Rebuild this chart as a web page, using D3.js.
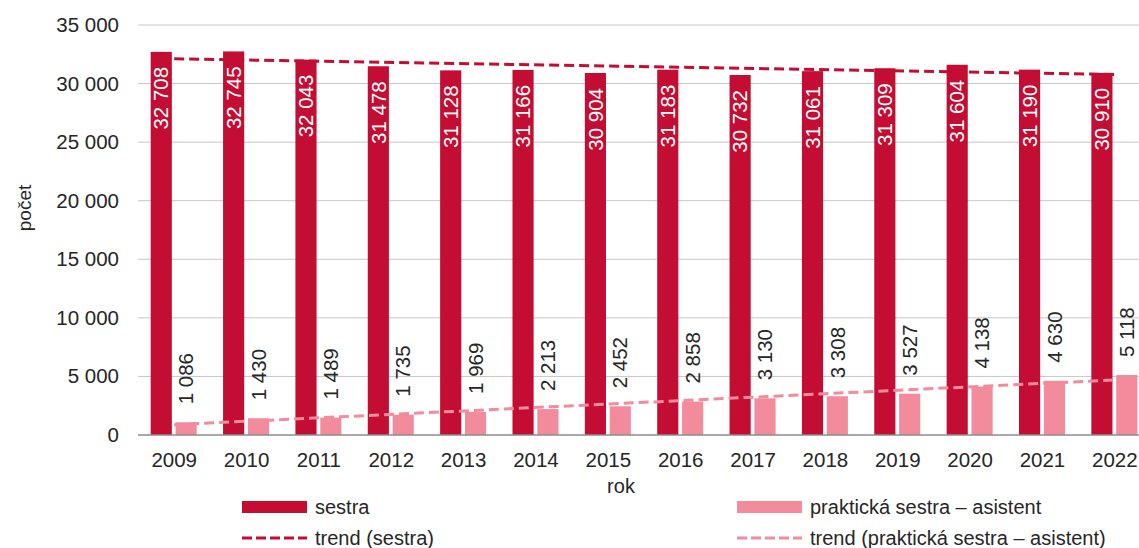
<!DOCTYPE html>
<html>
<head>
<meta charset="utf-8">
<script src="https://cdn.jsdelivr.net/npm/d3@7"></script>
<style>
  body { margin: 0; background: #fff; }
  text { font-family: "Liberation Sans", Arial, sans-serif; }
</style>
</head>
<body>
<div id="chart"></div>
<script>
// data
var years = ["2009", "2010", "2011", "2012", "2013", "2014", "2015", "2016", "2017", "2018", "2019", "2020", "2021", "2022"];
var sestra = [32708, 32745, 32043, 31478, 31128, 31166, 30904, 31183, 30732, 31061, 31309, 31604, 31190, 30910];
var prakticka = [1086, 1430, 1489, 1735, 1969, 2213, 2452, 2858, 3130, 3308, 3527, 4138, 4630, 5118];
// trend line ends (first and last year)
var trendSestra = [32110, 30770];
var trendPrakticka = [880, 4700];
var yTicks = [0, 5000, 10000, 15000, 20000, 25000, 30000, 35000];
var seriesNames = ["sestra", "praktická sestra – asistent"];

var red = "#c40d32", pink = "#f28b9c", textCol = "#262626";

var width = 1139, height = 548;
var svg = d3.select("#chart")
    .append("svg")
    .attr("width", width)
    .attr("height", height);

var locale = d3.formatLocale({ decimal: ",", thousands: " ", grouping: [3], currency: ["", ""] });
var fmt = locale.format(",d");

// scales (chart is cut off at the right edge)
var x0 = d3.scaleBand().domain(years).range([138, 1151]).padding(0);
var x1 = d3.scaleBand().domain(["s", "p"]).range([12.7, 58.7]).paddingInner(0.15);
var y = d3.scaleLinear().domain([0, 35000]).range([435, 25]);

// gridlines
svg.append("g")
    .selectAll("line")
    .data(yTicks.slice(1))
    .enter()
    .append("line")
    .attr("x1", 138).attr("x2", 1151)
    .attr("y1", function (d) { return y(d); })
    .attr("y2", function (d) { return y(d); })
    .attr("stroke", "#c6c6c6")
    .attr("stroke-width", 1);

// Y axis labels
var yAxis = svg.append("g")
    .attr("transform", "translate(138,0)")
    .call(d3.axisLeft(y).tickValues(yTicks).tickFormat(fmt).tickSize(0).tickPadding(19));
yAxis.select(".domain").remove();
yAxis.selectAll("text").style("font-size", "20.5px").attr("fill", textCol);

// bars
var groups = svg.append("g")
    .selectAll("g")
    .data(years)
    .enter()
    .append("g")
    .attr("transform", function (d) { return "translate(" + x0(d) + ",0)"; });

groups.append("rect")
    .attr("x", x1("s"))
    .attr("width", x1.bandwidth())
    .attr("y", function (d, i) { return y(sestra[i]); })
    .attr("height", function (d, i) { return y(0) - y(sestra[i]); })
    .attr("fill", red);

groups.append("rect")
    .attr("x", x1("p"))
    .attr("width", x1.bandwidth())
    .attr("y", function (d, i) { return y(prakticka[i]); })
    .attr("height", function (d, i) { return y(0) - y(prakticka[i]); })
    .attr("fill", pink);

// value labels
groups.append("text")
    .attr("transform", function (d, i) {
        return "translate(" + (x1("s") + x1.bandwidth() / 2) + "," + (y(sestra[i]) + 15) + ") rotate(-90)";
    })
    .attr("text-anchor", "end")
    .attr("dy", "0.35em")
    .style("font-size", "20.5px")
    .attr("fill", "#fff")
    .text(function (d, i) { return fmt(sestra[i]); });

groups.append("text")
    .attr("transform", function (d, i) {
        return "translate(" + (x1("p") + x1.bandwidth() / 2) + "," + (y(prakticka[i]) - 18) + ") rotate(-90)";
    })
    .attr("text-anchor", "start")
    .attr("dy", "0.35em")
    .style("font-size", "20.5px")
    .attr("fill", textCol)
    .text(function (d, i) { return fmt(prakticka[i]); });

// X axis
svg.append("line")
    .attr("x1", 138).attr("x2", 1151)
    .attr("y1", y(0)).attr("y2", y(0))
    .attr("stroke", "#8c8c8c")
    .attr("stroke-width", 1.3);

var xAxis = svg.append("g")
    .attr("transform", "translate(0," + y(0) + ")")
    .call(d3.axisBottom(x0).tickSize(0).tickPadding(17));
xAxis.select(".domain").remove();
xAxis.selectAll("text").style("font-size", "20.5px").attr("fill", textCol);

// trend lines
var first = years[0], last = years[years.length - 1];
var cx = function (yr) { return x0(yr) + x0.bandwidth() / 2; };
svg.append("line")
    .attr("x1", cx(first)).attr("x2", cx(last))
    .attr("y1", y(trendSestra[0])).attr("y2", y(trendSestra[1]))
    .attr("stroke", red).attr("stroke-width", 3)
    .attr("stroke-dasharray", "10,5");
svg.append("line")
    .attr("x1", cx(first)).attr("x2", cx(last))
    .attr("y1", y(trendPrakticka[0])).attr("y2", y(trendPrakticka[1]))
    .attr("stroke", pink).attr("stroke-width", 3)
    .attr("stroke-dasharray", "10,5");

// axis titles
svg.append("text")
    .attr("x", 621).attr("y", 493)
    .attr("text-anchor", "middle")
    .style("font-size", "20px")
    .attr("fill", textCol)
    .text("rok");
svg.append("text")
    .attr("transform", "translate(24,208) rotate(-90)")
    .attr("text-anchor", "middle")
    .attr("dy", "0.35em")
    .style("font-size", "19px")
    .attr("fill", textCol)
    .text("počet");

// legend
var legend = [
    { x: 242, y: 507, type: "bar", color: red, label: seriesNames[0] },
    { x: 737, y: 507, type: "bar", color: pink, label: seriesNames[1] },
    { x: 242, y: 538, type: "line", color: red, label: "trend (" + seriesNames[0] + ")" },
    { x: 737, y: 538, type: "line", color: pink, label: "trend (" + seriesNames[1] + ")" }
];
var lg = svg.append("g")
    .selectAll("g")
    .data(legend)
    .enter()
    .append("g")
    .attr("transform", function (d) { return "translate(" + d.x + "," + d.y + ")"; });
lg.filter(function (d) { return d.type === "bar"; })
    .append("rect")
    .attr("x", 0).attr("y", -6)
    .attr("width", 65).attr("height", 12)
    .attr("fill", function (d) { return d.color; });
lg.filter(function (d) { return d.type === "line"; })
    .append("line")
    .attr("x1", 0).attr("x2", 65)
    .attr("stroke", function (d) { return d.color; })
    .attr("stroke-width", 3)
    .attr("stroke-dasharray", "10,4");
lg.append("text")
    .attr("x", 73)
    .attr("dy", "0.35em")
    .style("font-size", "20px")
    .attr("fill", textCol)
    .text(function (d) { return d.label; });
</script>
</body>
</html>
